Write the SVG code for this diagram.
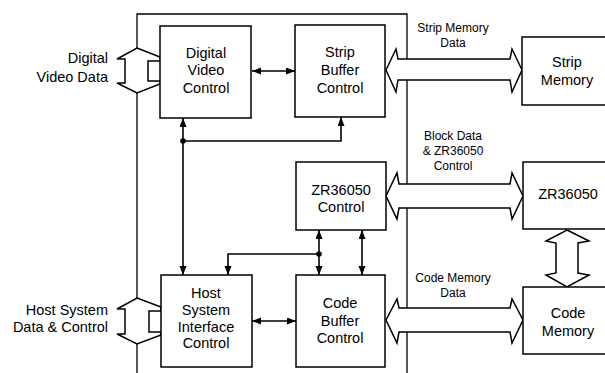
<svg xmlns="http://www.w3.org/2000/svg" width="605" height="373" viewBox="0 0 605 373">
<style>
.box{fill:#fff;stroke:#000;stroke-width:1.5}
.t{font-family:"Liberation Sans",Arial,sans-serif;font-size:14.5px;text-anchor:middle;fill:#000}
.r{text-anchor:end}
.lbl{font-size:12px}
.wire{fill:none;stroke:#000;stroke-width:1.6}
.bus{fill:#fff;stroke:#000;stroke-width:1.5;stroke-linejoin:miter}
.frame{fill:none;stroke:#000;stroke-width:1.3}
</style>
<defs>
<marker id="ah" markerUnits="userSpaceOnUse" markerWidth="10" markerHeight="8" refX="9" refY="3.5" orient="auto-start-reverse">
<path d="M0,0 L9,3.5 L0,7 z" fill="#000"/>
</marker>
</defs>
<rect width="605" height="373" fill="#fff"/>
<g id="frame">
<path class="frame" d="M137,373 L137,14 L407,14 L407,373"/>
</g>
<g id="connectors">
<path class="wire" d="M252,71 L295,71" marker-start="url(#ah)" marker-end="url(#ah)"/>
<path class="wire" d="M183,118 L183,275" marker-start="url(#ah)" marker-end="url(#ah)"/>
<path class="wire" d="M183,141 L341,141 L341,117" marker-end="url(#ah)"/>
<circle cx="183" cy="141" r="2.8" fill="#000"/>
<path class="wire" d="M319,254 L228,254 L228,275" marker-end="url(#ah)"/>
<circle cx="319" cy="254" r="2.8" fill="#000"/>
<path class="wire" d="M319,230 L319,275" marker-start="url(#ah)" marker-end="url(#ah)"/>
<path class="wire" d="M362,230 L362,275" marker-start="url(#ah)" marker-end="url(#ah)"/>
<path class="wire" d="M252,321 L296,321" marker-start="url(#ah)" marker-end="url(#ah)"/>
<polygon class="bus" points="137,48 160,57 160,61 148,61 148,81 160,81 160,84 137,93 117,83 125,83 125,59 117,59"/>
<polygon class="bus" points="137,298 161,307 161,311 149,311 149,332 161,332 161,335 137,344 117,334 125,334 125,309 117,309"/>
<polygon class="bus" points="386,70 396,49 398,59 510,59 512,49 522,70 512,92 510,80 398,80 396,92"/>
<polygon class="bus" points="386,196 397,173 399,184 510,184 512,173 523,196 512,219 510,208 399,208 397,219"/>
<polygon class="bus" points="386,320 397,299 399,308 510,308 512,299 523,320 512,343 510,332 399,332 397,343"/>
<polygon class="bus" points="567,230 589,241 578,243 578,273 589,275 567,287 546,275 556,273 556,243 546,241"/>
</g>
<g id="dvc">
<rect class="box" x="160" y="26" width="91" height="92"/>
<text class="t" x="206" y="58">Digital</text>
<text class="t" x="206" y="75">Video</text>
<text class="t" x="206" y="93">Control</text>
</g>
<g id="sbc">
<rect class="box" x="295" y="25" width="90" height="92"/>
<text class="t" x="340" y="57">Strip</text>
<text class="t" x="340" y="75">Buffer</text>
<text class="t" x="340" y="93">Control</text>
</g>
<g id="zrc">
<rect class="box" x="296" y="162" width="90" height="68"/>
<text class="t" x="341" y="195">ZR36050</text>
<text class="t" x="341" y="212">Control</text>
</g>
<g id="hsic">
<rect class="box" x="161" y="275" width="91" height="92"/>
<text class="t" x="206" y="298">Host</text>
<text class="t" x="206" y="315">System</text>
<text class="t" x="206" y="332">Interface</text>
<text class="t" x="206" y="348">Control</text>
</g>
<g id="cbc">
<rect class="box" x="296" y="275" width="89" height="92"/>
<text class="t" x="340" y="308">Code</text>
<text class="t" x="340" y="326">Buffer</text>
<text class="t" x="340" y="343">Control</text>
</g>
<g id="stripmem">
<rect class="box" x="522" y="37" width="100" height="68"/>
<text class="t" x="567" y="67">Strip</text>
<text class="t" x="567" y="85">Memory</text>
</g>
<g id="zr36050">
<rect class="box" x="523" y="162" width="100" height="67"/>
<text class="t" x="568" y="199">ZR36050</text>
</g>
<g id="codemem">
<rect class="box" x="523" y="287" width="100" height="67"/>
<text class="t" x="568" y="318">Code</text>
<text class="t" x="568" y="336">Memory</text>
</g>
<g id="labels">
<text class="t r" x="108" y="63">Digital</text>
<text class="t r" x="108" y="82">Video Data</text>
<text class="t r" x="108" y="315">Host System</text>
<text class="t r" x="108" y="332">Data &amp; Control</text>
<text class="t lbl" x="453" y="32">Strip Memory</text>
<text class="t lbl" x="453" y="47">Data</text>
<text class="t lbl" x="453" y="140">Block Data</text>
<text class="t lbl" x="453" y="155">&amp; ZR36050</text>
<text class="t lbl" x="453" y="170">Control</text>
<text class="t lbl" x="453" y="282">Code Memory</text>
<text class="t lbl" x="453" y="297">Data</text>
</g>
</svg>
